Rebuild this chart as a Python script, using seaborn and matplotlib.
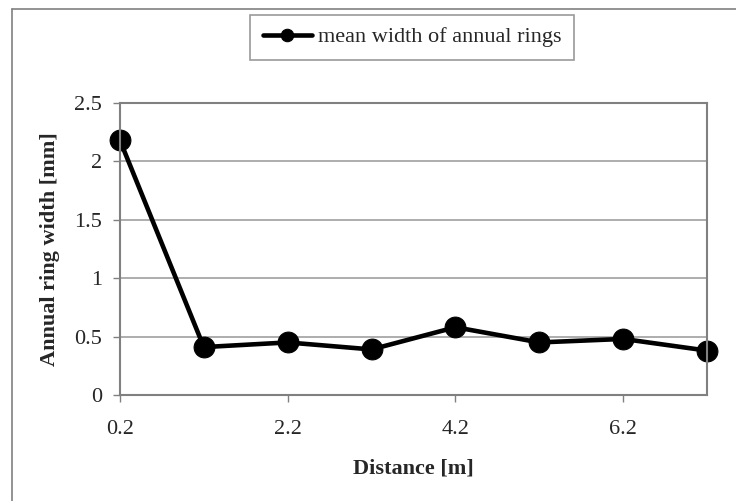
import pandas as pd
import matplotlib.pyplot as plt
import seaborn as sns

# values
distance = [0.2, 1.2, 2.2, 3.2, 4.2, 5.2, 6.2, 7.2]
ring_width = [2.18, 0.41, 0.45, 0.39, 0.58, 0.45, 0.48, 0.38]
x_ticks = [0.2, 2.2, 4.2, 6.2]
y_ticks = [0, 0.5, 1, 1.5, 2, 2.5]
series_name = "mean width of annual rings"

df = pd.DataFrame({"Distance": distance, "Width": ring_width})

sns.set_style("white")
plt.rcParams["font.family"] = ["Liberation Serif", "DejaVu Serif"]

fig = plt.figure(figsize=(7.36, 5.01), dpi=100)
ax = fig.add_axes([0.163, 0.2116, 0.7976, 0.5828])

sns.lineplot(
    data=df, x="Distance", y="Width", ax=ax,
    color="black", linewidth=3.3, marker="o", markersize=15,
    markeredgecolor="black", label=series_name, clip_on=False,
)

ax.set_xlim(0.2, 7.2)
ax.set_ylim(0, 2.5)
ax.set_xticks(x_ticks)
ax.set_xticklabels([f"{t:.1f}" for t in x_ticks])
ax.set_yticks(y_ticks)
ax.set_yticklabels(["0", "0.5", "1", "1.5", "2", "2.5"])
ax.yaxis.grid(True, color="#a0a0a0", linewidth=1.2)
ax.set_axisbelow(True)

for side in ["top", "right", "bottom", "left"]:
    ax.spines[side].set_color("#808080")
    ax.spines[side].set_linewidth(1.5)

ax.tick_params(axis="both", direction="out", length=5, width=1,
               color="#808080", labelsize=16, left=True, bottom=True)
ax.tick_params(axis="x", pad=13)
ax.tick_params(axis="y", pad=8)

ax.set_xlabel("Distance [m]", fontsize=16, fontweight="bold", labelpad=14)
ax.set_ylabel("Annual ring width [mm]", fontsize=16, fontweight="bold", labelpad=10)

leg = ax.legend(
    loc="center", bbox_to_anchor=(0.56, 0.926), bbox_transform=fig.transFigure,
    fontsize=16, frameon=True, fancybox=False, markerscale=0.6,
    handlelength=2.2, borderpad=0.55, handletextpad=0.3,
)
leg.get_frame().set_edgecolor("#808080")
leg.get_frame().set_linewidth(1.2)

# outer chart frame (top and left edges only visible)
fig.add_artist(plt.Line2D([12 / 736, 1], [1 - 9 / 501, 1 - 9 / 501],
                          transform=fig.transFigure, color="#808080", linewidth=1.2))
fig.add_artist(plt.Line2D([12 / 736, 12 / 736], [0, 1 - 9 / 501],
                          transform=fig.transFigure, color="#808080", linewidth=1.2))

fig.savefig("out.png", dpi=100)
plt.close()
